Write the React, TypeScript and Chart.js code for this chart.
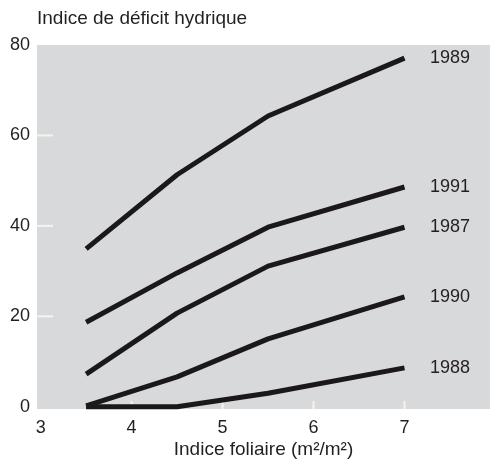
import React, { useEffect, useRef } from "react";
import { Chart, registerables } from "chart.js";

Chart.register(...registerables);

const leafIndex = [3.5, 4.5, 5.5, 7];
const seriesNames = ["1989", "1991", "1987", "1990", "1988"];
const values1989 = [34.9, 51.3, 64.3, 77.1];
const values1991 = [18.7, 29.6, 39.7, 48.6];
const values1987 = [7.2, 20.7, 31.1, 39.7];
const values1990 = [0.2, 6.6, 15.0, 24.3];
const values1988 = [0, 0, 3.0, 8.6];
const xTicks = [3, 4, 5, 6, 7];
const yTicks = [0, 20, 40, 60, 80];
const yTitle = "Indice de déficit hydrique";
const xTitle = "Indice foliaire (m²/m²)";

const FONT = "'Liberation Sans', Arial, Helvetica, sans-serif";
const TEXT = "#231f20";
const LINE = "#1a1819";
const PANEL = "#d8d9db";

export default function App() {
  const ref = useRef<HTMLCanvasElement | null>(null);

  useEffect(() => {
    if (!ref.current) return;
    const seriesValues = [values1989, values1991, values1987, values1990, values1988];

    const decor = {
      id: "decor",
      beforeDraw(chart: any) {
        const { ctx, chartArea } = chart;
        ctx.save();
        ctx.fillStyle = PANEL;
        ctx.fillRect(chartArea.left, chartArea.top, chartArea.right - chartArea.left, chartArea.bottom - chartArea.top);
        ctx.restore();
      },
      beforeDatasetsDraw(chart: any) {
        const { ctx, chartArea, scales } = chart;
        ctx.save();
        ctx.strokeStyle = "#f4f4f4";
        ctx.lineWidth = 2;
        xTicks.slice(1).forEach((v) => {
          const px = scales.x.getPixelForValue(v);
          ctx.beginPath();
          ctx.moveTo(px, chartArea.bottom);
          ctx.lineTo(px, chartArea.bottom - 8);
          ctx.stroke();
        });
        yTicks.slice(1, -1).forEach((v) => {
          const py = scales.y.getPixelForValue(v);
          ctx.beginPath();
          ctx.moveTo(chartArea.left, py);
          ctx.lineTo(chartArea.left + 16, py);
          ctx.stroke();
        });
        ctx.restore();
      },
      afterDatasetsDraw(chart: any) {
        const { ctx, chartArea, scales } = chart;
        ctx.save();
        ctx.fillStyle = TEXT;
        ctx.font = `18px ${FONT}`;
        ctx.textAlign = "center";
        ctx.textBaseline = "middle";
        seriesNames.forEach((name, i) => {
          const vals = seriesValues[i];
          ctx.fillText(name, scales.x.getPixelForValue(7.5), scales.y.getPixelForValue(vals[vals.length - 1]));
        });
        ctx.font = `19px ${FONT}`;
        ctx.textAlign = "left";
        ctx.fillText(yTitle, chartArea.left, 19);
        ctx.restore();
      },
    };

    const chart = new Chart(ref.current, {
      type: "line",
      data: {
        datasets: seriesNames.map((name, i) => ({
          label: name,
          data: leafIndex.map((x, j) => ({ x, y: seriesValues[i][j] })),
          borderColor: LINE,
          borderWidth: 5,
          borderCapStyle: "butt",
          borderJoinStyle: "round",
          pointRadius: 0,
          tension: 0,
          fill: false,
          clip: false as any,
        })),
      },
      options: {
        animation: false,
        responsive: false,
        layout: { padding: { top: 45, right: 2, left: 0, bottom: 0 } },
        plugins: { legend: { display: false }, tooltip: { enabled: false }, title: { display: false } },
        scales: {
          x: {
            type: "linear",
            min: 2.96,
            max: 7.94,
            grid: { display: false, drawTicks: false },
            border: { display: false },
            afterBuildTicks: (s: any) => {
              s.ticks = xTicks.map((v) => ({ value: v }));
            },
            afterFit: (s: any) => {
              s.height = 54;
            },
            ticks: {
              padding: 8,
              color: TEXT,
              font: { family: FONT, size: 18 },
              maxRotation: 0,
              autoSkip: false,
            },
            title: {
              display: true,
              text: xTitle,
              color: TEXT,
              font: { family: FONT, size: 19 },
              padding: { top: 0, bottom: 1.5 },
            },
          },
          y: {
            type: "linear",
            min: -0.5,
            max: 80,
            grid: { display: false, drawTicks: false },
            border: { display: false },
            afterBuildTicks: (s: any) => {
              s.ticks = yTicks.map((v) => ({ value: v }));
            },
            afterFit: (s: any) => {
              s.width = 37;
            },
            ticks: {
              padding: 7,
              color: TEXT,
              font: { family: FONT, size: 18 },
              autoSkip: false,
            },
          },
        },
      } as any,
      plugins: [decor],
    });
    return () => chart.destroy();
  }, []);

  return (
    <div style={{ position: "absolute", left: 0, top: 0, width: 492, height: 463, background: "#fff" }}>
      <canvas ref={ref} width={492} height={463} style={{ display: "block", width: 492, height: 463 }} />
    </div>
  );
}
